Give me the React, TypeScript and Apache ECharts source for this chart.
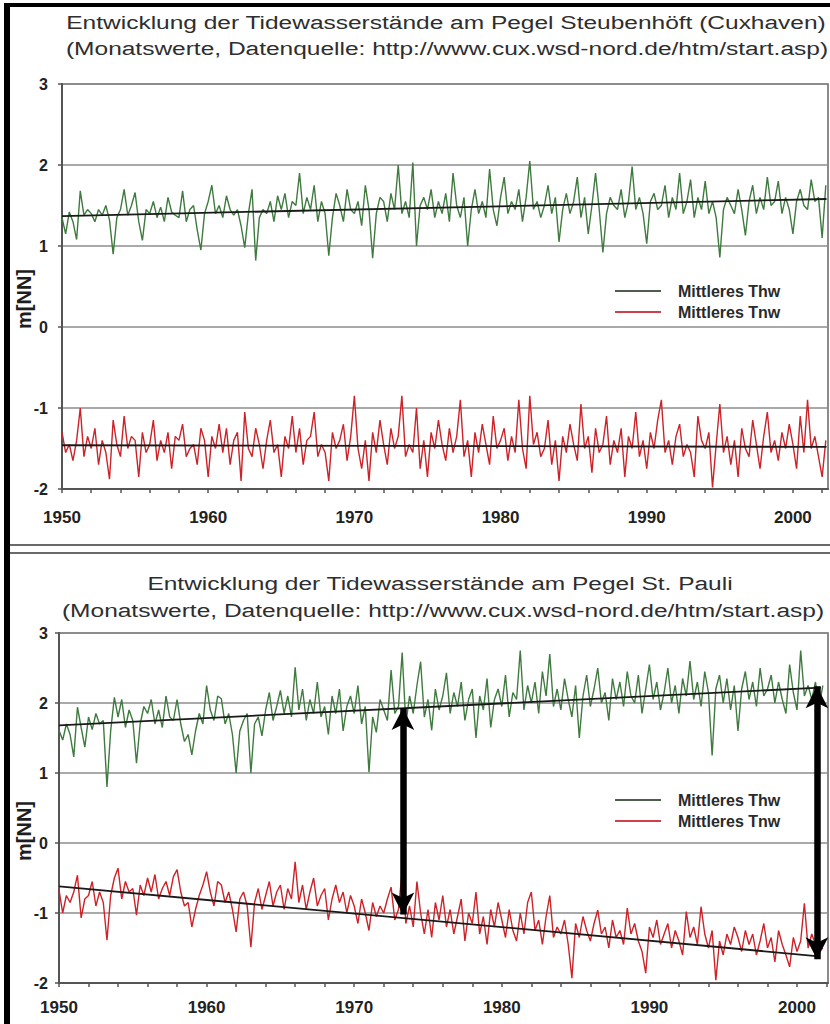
import React, { useEffect, useRef } from "react";
import * as echarts from "echarts";

// quarterly readings (approximate), starting 1950.0
const startYear = 1950;
const stepYears = 0.25;
const xTickLabels = [1950, 1960, 1970, 1980, 1990, 2000];

const cuxThw = [
  1.35, 1.15, 1.42, 1.30, 1.08, 1.68, 1.38, 1.45, 1.40, 1.30, 1.45, 1.38, 1.50, 1.32, 0.90, 1.35,
  1.45, 1.70, 1.38, 1.50, 1.66, 1.30, 1.07, 1.45, 1.40, 1.55, 1.35, 1.48, 1.30, 1.60, 1.42, 1.38,
  1.35, 1.68, 1.30, 1.45, 1.50, 1.20, 0.95, 1.40, 1.55, 1.75, 1.40, 1.50, 1.35, 1.62, 1.45, 1.38,
  1.45, 1.25, 0.98, 1.40, 1.70, 0.82, 1.35, 1.45, 1.40, 1.55, 1.30, 1.62, 1.45, 1.65, 1.35, 1.55,
  1.50, 1.90, 1.40, 1.60, 1.45, 1.75, 1.30, 1.55, 1.40, 0.88, 1.35, 1.65, 1.50, 1.30, 1.70, 1.45,
  1.40, 1.55, 1.25, 1.75, 1.45, 0.85, 1.40, 1.60, 1.55, 1.30, 1.65, 1.45, 2.00, 1.40, 1.55, 1.35,
  2.03, 1.00, 1.50, 1.60, 1.45, 1.70, 1.35, 1.55, 1.40, 1.65, 1.30, 1.90, 1.50, 1.35, 1.60, 1.00,
  1.45, 1.70, 1.40, 1.55, 1.35, 1.95, 1.45, 1.25, 1.60, 1.85, 1.40, 1.55, 1.45, 1.70, 1.30, 1.60,
  2.05, 1.45, 1.55, 1.35, 1.50, 1.75, 1.40, 1.60, 1.05, 1.45, 1.65, 1.40, 1.55, 1.85, 1.35, 1.60,
  1.15, 1.50, 1.90, 1.45, 0.92, 1.40, 1.60, 1.50, 1.45, 1.70, 1.35, 1.55, 1.98, 1.45, 1.60, 1.40,
  1.03, 1.55, 1.65, 1.45, 1.50, 1.75, 1.35, 1.60, 1.45, 1.90, 1.40, 1.55, 1.82, 1.35, 1.60, 1.45,
  1.80, 1.40, 1.55, 1.35, 0.86, 1.45, 1.60, 1.50, 1.40, 1.70, 1.45, 1.13, 1.55, 1.75, 1.40, 1.60,
  1.45, 1.85, 1.50, 1.55, 1.80, 1.40, 1.60, 1.45, 1.15, 1.55, 1.70, 1.50, 1.45, 1.82, 1.55, 1.60,
  1.10, 1.75,
];

const cuxTnw = [
  -1.30, -1.55, -1.45, -1.65, -1.40, -1.00, -1.60, -1.35, -1.50, -1.25, -1.70, -1.40, -1.55, -1.88, -1.15, -1.45,
  -1.60, -1.10, -1.50, -1.35, -1.40, -1.85, -1.30, -1.55, -1.45, -1.15, -1.65, -1.40, -1.55, -1.30, -1.75, -1.35,
  -1.40, -1.20, -1.60, -1.50, -1.45, -1.70, -1.25, -1.40, -1.85, -1.35, -1.50, -1.20, -1.55, -1.25, -1.70, -1.40,
  -1.30, -1.90, -1.05, -1.50, -1.60, -1.25, -1.45, -1.75, -1.40, -1.15, -1.55, -1.45, -1.85, -1.35, -1.50, -1.10,
  -1.55, -1.25, -1.70, -1.40, -1.35, -1.05, -1.60, -1.45, -1.55, -1.90, -1.30, -1.50, -1.40, -1.20, -1.65, -1.35,
  -0.85, -1.50, -1.75, -1.40, -1.90, -1.30, -1.55, -1.15, -1.45, -1.70, -1.25, -1.50, -1.35, -0.85, -1.60, -1.45,
  -1.55, -1.00, -1.75, -1.40, -1.85, -1.30, -1.50, -1.15, -1.45, -1.65, -1.25, -1.55, -1.35, -0.90, -1.60, -1.40,
  -1.85, -1.30, -1.55, -1.20, -1.45, -1.70, -1.10, -1.50, -1.40, -1.25, -1.65, -1.35, -1.55, -0.90, -1.50, -1.75,
  -0.85, -1.45, -1.30, -1.60, -1.50, -1.15, -1.70, -1.40, -1.90, -1.35, -1.55, -1.20, -1.45, -1.65, -0.95, -1.50,
  -1.35, -1.80, -1.25, -1.55, -1.45, -1.10, -1.70, -1.40, -1.55, -1.25, -1.85, -1.35, -1.50, -1.05, -1.60, -1.40,
  -1.75, -1.30, -1.50, -1.15, -0.90, -1.55, -1.40, -1.70, -1.35, -1.20, -1.60, -1.45, -1.55, -1.85, -1.10, -1.40,
  -1.50, -1.30, -1.98, -1.45, -0.95, -1.55, -1.35, -1.70, -1.40, -1.85, -1.25, -1.50, -1.60, -1.15, -1.45, -1.75,
  -1.35, -1.05, -1.55, -1.40, -1.65, -1.30, -1.50, -1.20, -1.45, -1.75, -1.10, -1.55, -0.90, -1.50, -1.35, -1.60,
  -1.85, -1.40,
];

const pauliThw = [
  1.61, 1.47, 1.70, 1.55, 1.23, 1.94, 1.65, 1.37, 1.80, 1.62, 1.85, 1.70, 1.75, 0.80, 1.60, 2.08,
  1.80, 2.05, 1.65, 1.90, 1.75, 1.14, 1.70, 1.95, 1.85, 2.05, 1.70, 1.90, 1.65, 2.10, 1.80, 1.75,
  2.05, 1.70, 1.45, 1.55, 1.26, 1.60, 1.85, 1.70, 2.25, 1.90, 1.75, 2.10, 2.06, 1.70, 1.85, 1.55,
  1.00, 1.60, 1.75, 1.85, 1.00, 1.70, 1.80, 1.53, 1.90, 2.15, 1.75, 1.95, 2.18, 1.85, 2.10, 1.80,
  2.51, 1.90, 2.20, 1.75, 2.05, 1.85, 2.30, 1.80, 1.95, 1.55, 2.10, 1.85, 2.20, 1.60, 1.95, 2.10,
  1.85, 2.25, 1.70, 1.95, 1.01, 1.80, 1.58, 2.05, 1.90, 1.75, 2.47, 1.85, 1.95, 2.72, 1.70, 2.10,
  1.85, 2.25, 2.59, 1.80, 2.05, 1.61, 2.20, 1.90, 2.10, 2.43, 1.85, 2.15, 1.95, 2.30, 1.75, 2.05,
  2.20, 1.50, 2.10, 1.90, 2.35, 1.65, 2.05, 2.20, 1.95, 2.40, 1.80, 2.15, 2.05, 2.75, 1.90, 2.25,
  2.00, 2.30, 1.85, 2.45, 2.10, 2.70, 1.95, 2.20, 1.90, 2.35, 2.05, 1.80, 2.25, 1.50, 2.10, 2.40,
  1.95, 2.20, 2.50, 2.00, 2.15, 1.75, 2.35, 2.05, 2.30, 1.95, 2.45, 2.10, 2.00, 2.40, 1.85, 2.20,
  2.55, 2.05, 2.30, 1.90, 2.15, 2.50, 2.00, 2.25, 1.85, 2.35, 2.10, 2.60, 2.05, 2.30, 1.95, 2.45,
  2.15, 1.25, 2.20, 2.40, 2.00, 2.35, 1.90, 2.25, 1.60, 2.20, 2.45, 2.05, 2.30, 1.95, 2.50, 2.10,
  2.20, 2.40, 2.00, 2.30, 2.05, 1.85, 2.55, 2.15, 1.90, 2.75, 2.10, 2.25, 2.05, 2.30, 1.95, 2.25,
];

const pauliTnw = [
  -0.67, -1.00, -0.75, -0.85, -0.70, -0.46, -1.07, -0.80, -0.75, -0.55, -0.90, -0.70, -0.85, -1.39, -0.75, -0.50,
  -0.36, -0.80, -0.55, -0.70, -0.65, -1.03, -0.60, -0.75, -0.50, -0.70, -0.45, -0.80, -0.65, -0.55, -0.75, -0.48,
  -0.38, -0.70, -0.90, -0.85, -1.20, -0.95, -0.75, -0.60, -0.41, -0.70, -0.90, -0.55, -0.60, -0.85, -0.70, -0.95,
  -1.27, -0.80, -0.70, -0.90, -1.49, -0.85, -0.65, -0.95, -0.75, -0.55, -0.90, -0.70, -0.60, -0.95, -0.65, -0.80,
  -0.27, -0.85, -0.60, -0.95, -0.70, -0.50, -0.90, -0.75, -0.65, -1.10, -0.80, -0.60, -0.85, -0.70, -1.00, -0.75,
  -0.90, -1.15, -0.80, -1.00, -1.25, -0.85, -1.05, -0.90, -1.00, -0.80, -0.63, -1.10, -0.95, -0.40, -1.15, -0.90,
  -1.20, -0.55, -1.00, -1.30, -0.95, -1.35, -0.85, -1.10, -0.75, -1.20, -0.95, -1.30, -1.05, -0.80, -1.40, -1.00,
  -1.15, -0.70, -1.30, -1.05, -1.45, -0.95, -1.20, -0.85, -1.10, -1.35, -0.95, -1.25, -1.40, -1.00, -1.30, -0.85,
  -0.70, -1.25, -1.10, -1.45, -1.05, -0.75, -1.35, -1.20, -1.30, -1.10, -1.45, -1.93, -1.15, -1.35, -1.05, -1.25,
  -1.40, -1.15, -0.96, -1.30, -1.20, -1.50, -1.10, -1.35, -1.25, -1.45, -0.93, -1.30, -1.15, -1.40, -1.55, -1.86,
  -1.20, -1.35, -1.10, -1.45, -1.30, -1.15, -1.50, -1.25, -1.40, -1.60, -0.98, -1.35, -1.20, -1.45, -0.91, -1.30,
  -1.50, -1.25, -1.96, -1.40, -1.60, -1.30, -1.45, -1.20, -1.35, -1.55, -1.25, -1.45, -1.30, -1.60, -1.40, -1.15,
  -1.50, -1.35, -1.70, -1.25, -1.45, -1.60, -1.77, -1.35, -1.55, -1.40, -0.86, -1.50, -1.30, -1.45, -1.55, -1.50,
];

// trend lines [start, end]
const cuxTrendYears = [1950, 2002.3];
const cuxThwTrend = [1.37, 1.58];
const cuxTnwTrend = [-1.46, -1.48];
const pauliThwTrendYears = [1950, 2001.6];
const pauliThwTrend = [1.68, 2.22];
const pauliTnwTrendYears = [1950, 2001.3];
const pauliTnwTrend = [-0.62, -1.615];

// double-headed arrows in the St. Pauli panel
const arrowYears = [1973.3, 2001.35];
const arrowTop = [1.93, 2.24];
const arrowBottom = [-1.02, -1.66];

const THW = "Mittleres Thw";
const TNW = "Mittleres Tnw";
const GREEN = "#3f7a3f";
const RED = "#cc2228";
const FONT = "'Liberation Sans', Arial, sans-serif";

const toPairs = (vals: number[]) => vals.map((v, i) => [startYear + i * stepYears, v]);
const trendPairs = (years: number[], vals: number[]) => years.map((y, i) => [y, vals[i]]);

const xAxisFor = (gridIndex: number, max: number, margin: number) => ({
  type: "value",
  gridIndex,
  min: 1950,
  max,
  interval: 2,
  axisLine: { show: true, onZero: false, lineStyle: { color: "#555", width: 2 } },
  axisTick: { show: true, length: 4, lineStyle: { color: "#555", width: 1.5 } },
  axisLabel: {
    formatter: (v: number) => (xTickLabels.includes(v) ? String(v) : ""),
    fontSize: 17,
    fontWeight: "bold",
    color: "#222",
    fontFamily: FONT,
    margin,
    showMaxLabel: false,
  },
  splitLine: { show: false },
});

const yAxisFor = (gridIndex: number, margin: number) => ({
  type: "value",
  gridIndex,
  min: -2,
  max: 3,
  interval: 1,
  axisLine: { show: true, lineStyle: { color: "#555", width: 2 } },
  axisTick: { show: true, length: 4, lineStyle: { color: "#555", width: 1.5 } },
  axisLabel: { fontSize: 16, fontWeight: "bold", color: "#222", fontFamily: FONT, margin },
  splitLine: { show: true, lineStyle: { color: "#8c8c8c", width: 1.5 } },
});

const dataLine = (name: string, data: number[], color: string, idx: number) => ({
  type: "line",
  name,
  xAxisIndex: idx,
  yAxisIndex: idx,
  data: toPairs(data),
  showSymbol: false,
  symbol: "none",
  lineStyle: { color, width: 1.4 },
  itemStyle: { color },
  z: 2,
});

const trendLine = (name: string, years: number[], vals: number[], idx: number, extra: any = {}) => ({
  type: "line",
  name,
  xAxisIndex: idx,
  yAxisIndex: idx,
  data: trendPairs(years, vals),
  showSymbol: false,
  symbol: "none",
  lineStyle: { color: "#1a1a1a", width: 1.8 },
  z: 3,
  ...extra,
});

const legendFor = (top: number) => ({
  orient: "vertical",
  left: 610,
  top,
  icon: "rect",
  itemWidth: 46,
  itemHeight: 2,
  itemGap: 5,
  textStyle: {
    fontSize: 16,
    fontWeight: "bold",
    color: "#2a2a2a",
    fontFamily: FONT,
    padding: [0, 0, 0, 12],
  },
  data: [
    { name: THW, itemStyle: { color: "#4f5d4f" } },
    { name: TNW, itemStyle: { color: "#d0404a" } },
  ],
});

const titleText = (text: string, x: number, y: number) => ({
  type: "text",
  x,
  y,
  scaleX: 1.29,
  style: {
    text,
    font: `19px ${FONT}`,
    fill: "#2e2e2e",
    align: "center",
    verticalAlign: "middle",
  },
});

const yName = (y: number) => ({
  type: "text",
  x: 24,
  y,
  rotation: Math.PI / 2,
  style: {
    text: "m[NN]",
    font: `bold 20px ${FONT}`,
    fill: "#1e1e1e",
    align: "center",
    verticalAlign: "middle",
  },
});

export default function App() {
  const ref = useRef<HTMLDivElement>(null);

  useEffect(() => {
    document.body.style.margin = "0";
    if (!ref.current) return;
    const chart = echarts.init(ref.current, null, { renderer: "svg" });
    const option: any = {
      animation: false,
      backgroundColor: "#ffffff",
      textStyle: { fontFamily: FONT },
      grid: [
        { left: 62, top: 84, width: 766, height: 405, show: true, borderColor: "#666", borderWidth: 1.5 },
        { left: 59, top: 633, width: 769, height: 350, show: true, borderColor: "#666", borderWidth: 1.5 },
      ],
      xAxis: [xAxisFor(0, 2002.4, 20), xAxisFor(1, 2002.1, 16)],
      yAxis: [yAxisFor(0, 14), yAxisFor(1, 11)],
      legend: [legendFor(278), legendFor(787)],
      series: [
        dataLine(THW, cuxThw, GREEN, 0),
        dataLine(TNW, cuxTnw, RED, 0),
        trendLine("Trend Thw Cuxhaven", cuxTrendYears, cuxThwTrend, 0),
        trendLine("Trend Tnw Cuxhaven", cuxTrendYears, cuxTnwTrend, 0),
        dataLine(THW, pauliThw, GREEN, 1),
        dataLine(TNW, pauliTnw, RED, 1),
        trendLine("Trend Thw St. Pauli", pauliThwTrendYears, pauliThwTrend, 1),
        trendLine("Trend Tnw St. Pauli", pauliTnwTrendYears, pauliTnwTrend, 1, {
          markLine: {
            silent: true,
            symbol: ["arrow", "arrow"],
            symbolSize: [17, 22],
            label: { show: false },
            lineStyle: { color: "#000", width: 6.5, type: "solid" },
            emphasis: { disabled: true },
            data: arrowYears.map((yr, i) => [
              { coord: [yr, arrowTop[i]] },
              { coord: [yr, arrowBottom[i]] },
            ]),
            z: 5,
          },
        }),
      ],
      graphic: [
        { type: "rect", shape: { x: 4, y: 3, width: 826, height: 4 }, style: { fill: "#000" }, z: 100 },
        { type: "rect", shape: { x: 4, y: 3, width: 6, height: 1021 }, style: { fill: "#000" }, z: 100 },
        { type: "line", shape: { x1: 10, y1: 545, x2: 830, y2: 545 }, style: { stroke: "#6a6a6a", lineWidth: 2 } },
        { type: "line", shape: { x1: 10, y1: 553, x2: 830, y2: 553 }, style: { stroke: "#6a6a6a", lineWidth: 2 } },
        titleText("Entwicklung der Tidewasserstände am Pegel Steubenhöft (Cuxhaven)", 446, 23),
        titleText("(Monatswerte, Datenquelle: http://www.cux.wsd-nord.de/htm/start.asp)", 447, 49),
        titleText("Entwicklung der Tidewasserstände am Pegel St. Pauli", 440, 584),
        titleText("(Monatswerte, Datenquelle: http://www.cux.wsd-nord.de/htm/start.asp)", 443, 611),
        yName(299),
        yName(831),
      ],
    };
    chart.setOption(option);
    return () => chart.dispose();
  }, []);

  return <div ref={ref} style={{ width: 830, height: 1024 }} />;
}
